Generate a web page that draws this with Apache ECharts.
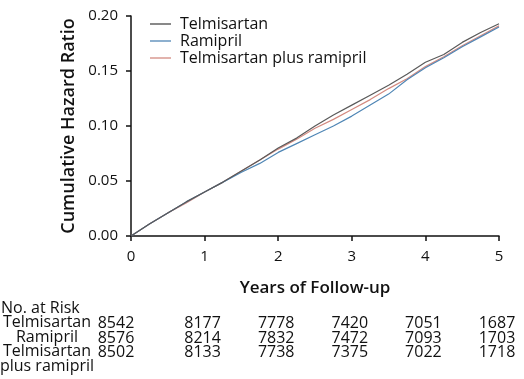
<!DOCTYPE html>
<html>
<head>
<meta charset="utf-8">
<script src="https://cdn.jsdelivr.net/npm/echarts@6/dist/echarts.min.js"></script>
<style>
html,body{margin:0;padding:0;background:#fff;}
#c{width:524px;height:379px;}
</style>
</head>
<body>
<div id="c"></div>
<script>
// ---- data ----
var years = [0, 0.25, 0.5, 0.75, 1, 1.25, 1.5, 1.75, 2, 2.25, 2.5, 2.75, 3, 3.25, 3.5, 3.75, 4, 4.25, 4.5, 4.75, 5];
var telmisartan = [0, 0.011, 0.021, 0.031, 0.040, 0.049, 0.059, 0.069, 0.080, 0.089, 0.100, 0.110, 0.119, 0.128, 0.137, 0.147, 0.158, 0.165, 0.176, 0.185, 0.193];
var ramipril    = [0, 0.011, 0.021, 0.031, 0.040, 0.049, 0.058, 0.066, 0.076, 0.084, 0.092, 0.100, 0.109, 0.119, 0.129, 0.142, 0.153, 0.162, 0.172, 0.181, 0.190];
var combination = [0, 0.011, 0.021, 0.030, 0.040, 0.049, 0.059, 0.069, 0.079, 0.088, 0.098, 0.106, 0.115, 0.124, 0.134, 0.143, 0.154, 0.163, 0.173, 0.182, 0.191];
var seriesNames = ['Telmisartan', 'Ramipril', 'Telmisartan plus ramipril'];
var xTicks = [0, 1, 2, 3, 4, 5];
var riskLabels = ['Telmisartan', 'Ramipril', 'Telmisartan\nplus ramipril'];
var riskTelmisartan = [8542, 8177, 7778, 7420, 7051, 1687];
var riskRamipril    = [8576, 8214, 7832, 7472, 7093, 1703];
var riskCombination = [8502, 8133, 7738, 7375, 7022, 1718];

function pairs(xs, ys){ return xs.map(function(x,i){ return [x, ys[i]]; }); }

var FONT = 'Open Sans';
var colors = ['#4a4a4a', '#4f86b5', '#d38a80'];
var chart = echarts.init(document.getElementById('c'));
var option = {
  animation: false,
  textStyle: {fontFamily: FONT, color: '#111'},
  grid: {left: 131, right: 25, top: 16, bottom: 143, containLabel: false},
  legend: {
    orient: 'vertical', left: 150, top: 16, padding: 0,
    icon: 'rect', itemWidth: 21, itemHeight: 1.3, itemGap: 1,
    textStyle: {fontFamily: FONT, fontSize: 16, color: '#111', lineHeight: 16, padding: [0,0,0,4]},
    data: seriesNames.map(function(n, i){ return {name: n, itemStyle: {color: colors[i]}}; })
  },
  xAxis: {
    type: 'value', min: 0, max: 5, interval: 1,
    name: 'Years of Follow-up', nameLocation: 'middle', nameGap: 44,
    nameTextStyle: {fontFamily: FONT, fontSize: 17, fontWeight: 600, color: '#111'},
    axisLine: {lineStyle: {color: '#111', width: 1.5}},
    axisTick: {show: true, length: 5, lineStyle: {color: '#111', width: 1.5}},
    axisLabel: {fontFamily: FONT, fontSize: 15, color: '#111', margin: 13},
    splitLine: {show: false}
  },
  yAxis: {
    type: 'value', min: 0, max: 0.2, interval: 0.05,
    name: 'Cumulative Hazard Ratio', nameLocation: 'middle', nameGap: 52,
    nameTextStyle: {fontFamily: FONT, fontSize: 18, fontWeight: 600, color: '#111'},
    axisLine: {show: true, lineStyle: {color: '#111', width: 1.5}},
    axisTick: {show: true, length: 5, lineStyle: {color: '#111', width: 1.5}},
    axisLabel: {fontFamily: FONT, fontSize: 15, color: '#111', margin: 13,
      formatter: function(v){ return v.toFixed(2); }},
    splitLine: {show: false}
  },
  series: [
    {name: seriesNames[0], type: 'line', symbol: 'none', data: pairs(years, telmisartan),
     lineStyle: {color: '#5a5a5a', width: 1.2}, itemStyle: {color: colors[0]}, z: 3},
    {name: seriesNames[1], type: 'line', symbol: 'none', data: pairs(years, ramipril),
     lineStyle: {color: colors[1], width: 1.2}, itemStyle: {color: colors[1]}, z: 2},
    {name: seriesNames[2], type: 'line', symbol: 'none', data: pairs(years, combination),
     lineStyle: {color: colors[2], width: 1.2}, itemStyle: {color: colors[2]}, z: 1}
  ]
};
chart.setOption(option);

// risk table, positioned by the x axis scale
var rows = [riskTelmisartan, riskRamipril, riskCombination];
var rowY = [323, 338, 352];
var g = [];
var tf = '16px "' + FONT + '"';
g.push({type: 'text', x: 1, y: 308, style: {text: 'No. at Risk', font: tf, fill: '#111', verticalAlign: 'middle'}});
var labelY = [315, 330, 344];
riskLabels.forEach(function(lbl, i){
  g.push({type: 'text', x: 47, y: labelY[i],
    style: {text: lbl, font: tf, fill: '#111', align: 'center', verticalAlign: 'top', lineHeight: 15}});
});
rows.forEach(function(row, r){
  row.forEach(function(v, i){
    var px = chart.convertToPixel({xAxisIndex: 0}, xTicks[i]);
    if (i === 0) px -= 15; else px -= 2;
    g.push({type: 'text', x: px, y: rowY[r],
      style: {text: String(v), font: tf, fill: '#111', align: 'center', verticalAlign: 'middle'}});
  });
});
chart.setOption({graphic: g});
</script>
</body>
</html>
